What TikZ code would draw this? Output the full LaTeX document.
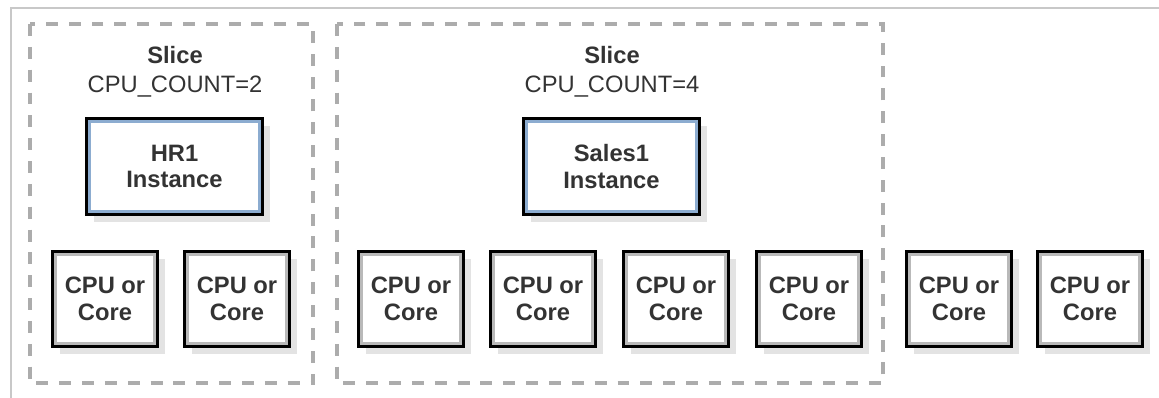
\documentclass[tikz,border=0pt]{standalone}
\usepackage{fontspec}
\setmainfont{Liberation Sans}
\usetikzlibrary{positioning,shadows}
\definecolor{framegray}{RGB}{200,200,200}
\definecolor{dashgray}{RGB}{172,172,172}
\definecolor{textgray}{RGB}{51,51,51}
\definecolor{instblue}{RGB}{140,172,208}
\tikzset{
boxed/.style = {rectangle, draw=black, line width=1.6pt, fill=white, inner sep=0pt,
  align=center, text=textgray, font=\fontsize{13.5}{15.3}\selectfont\bfseries,
  drop shadow={shadow xshift=4.5pt, shadow yshift=-4.5pt, fill=gray!22, opacity=1},
  path picture={\draw[draw=#1, line width=4.6pt] (path picture bounding box.south west)
    rectangle (path picture bounding box.north east);}},
cpubox/.style = {boxed=gray!55, minimum width=2.1cm, minimum height=1.9cm},
instbox/.style = {boxed=instblue, minimum width=3.52cm, minimum height=1.92cm},
slicebox/.style = {draw=dashgray, line width=2.3pt, dash pattern=on 6.8pt off 6.2pt},
slicetitle/.style = {anchor=base, inner sep=0pt, text=textgray, font=\fontsize{13.5}{15.3}\selectfont\bfseries},
slicecount/.style = {anchor=base, inner sep=0pt, text=textgray, font=\fontsize{13.5}{15.3}\selectfont}
}

\begin{document}
\begin{tikzpicture}[x=0.02cm, y=-0.02cm]
  \useasboundingbox (0,0) rectangle (1159,398);
  \draw [framegray, line width=1.2pt] (11,398) -- (11,8) -- (1159,8);
  % slices
  \draw [slicebox] (30,24) rectangle (313,383);
  \draw [slicebox] (337,24) rectangle (883,383);
  \node [slicetitle] (title1) at (175,64) {Slice};
  \node [slicecount] (count1) at (175,93) {CPU\_COUNT=2};
  \node [slicetitle] (title2) at (612,64) {Slice};
  \node [slicecount] (count2) at (612,93) {CPU\_COUNT=4};
  % instances
  \node [instbox] (hr1) at (174.5,166.5) {HR1\\Instance};
  \node [instbox] (sales1) at (611.5,166.5) {Sales1\\Instance};
  % cpus
  \foreach \x [count=\i] in {105,237,411,543,676,809,959,1090}
    \node [cpubox] (cpu\i) at (\x,299) {CPU or\\Core};
\end{tikzpicture}
\end{document}
